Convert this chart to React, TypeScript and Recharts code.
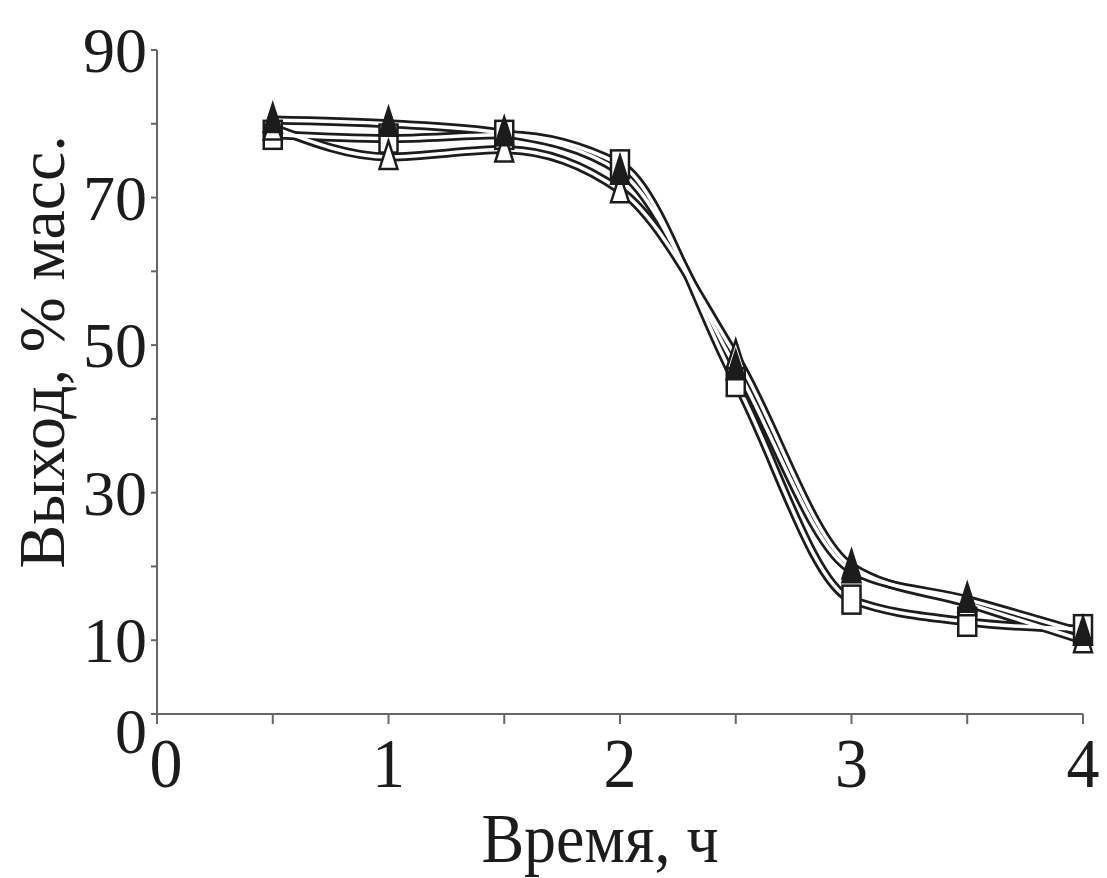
import { Line, LineChart, XAxis, YAxis } from "recharts";

const hours = [0.5, 1, 1.5, 2, 2.5, 3, 3.5, 4];
const seriesFilled = [80.5, 80, 78.7, 73.5, 47, 19.5, 15.5, 11];
const seriesSquare = [78.5, 78, 78.5, 74.5, 45, 15.5, 12.5, 11.5];
const seriesOpen = [79.5, 75.5, 76.5, 71, 48.5, 20, 15, 10];

const xTicks = [0, 0.5, 1, 1.5, 2, 2.5, 3, 3.5, 4];
const yTicks = [0, 10, 20, 30, 40, 50, 60, 70, 80, 90];
const yLabelled = [0, 10, 30, 50, 70, 90];

const rows = hours.map((t, i) => ({
  t,
  filled: seriesFilled[i],
  square: seriesSquare[i],
  open: seriesOpen[i],
}));

const ink = "#1c1c1c";
const font = "'Liberation Serif', 'DejaVu Serif', serif";

function Triangle(props: any) {
  const { cx, cy, solid, index } = props;
  if (cx == null || cy == null) return null;
  return (
    <polygon
      key={index}
      points={`${cx},${cy - 16} ${cx - 9},${cy + 12} ${cx + 9},${cy + 12}`}
      fill={solid ? ink : "#fff"}
      stroke={ink}
      strokeWidth={2.5}
    />
  );
}

function Square(props: any) {
  const { cx, cy, index } = props;
  if (cx == null || cy == null) return null;
  return (
    <rect
      key={index}
      x={cx - 9}
      y={cy - 14}
      width={18}
      height={28}
      fill="#fff"
      stroke={ink}
      strokeWidth={2.5}
    />
  );
}

// x tick labels: integers only
function XTick(props: any) {
  const { x, payload } = props;
  const v = payload.value;
  if (!Number.isInteger(v)) return null;
  const px = v === 0 ? x + 9 : x;
  return (
    <text
      transform={`translate(${px},787) scale(1,1.05)`}
      textAnchor="middle"
      fontFamily={font}
      fontSize={66}
      fill={ink}
    >
      {v}
    </text>
  );
}

function YTick(props: any) {
  const { x, y, payload } = props;
  const v = payload.value;
  if (!yLabelled.includes(v)) return null;
  const py = v === 0 ? y + 17 : y;
  return (
    <text
      transform={`translate(${x - 2},${py + 22})`}
      textAnchor="end"
      fontFamily={font}
      fontSize={64}
      fill={ink}
    >
      {v}
    </text>
  );
}

function YTitle() {
  return (
    <text
      transform="translate(64,352) rotate(-90)"
      textAnchor="middle"
      fontFamily={font}
      fontSize={66}
      fill={ink}
    >
      Выход, % масс.
    </text>
  );
}

function XTitle() {
  return (
    <text
      transform="translate(600,862) scale(1,1.1)"
      textAnchor="middle"
      fontFamily={font}
      fontSize={64}
      fill={ink}
    >
      Время, ч
    </text>
  );
}

const keys = ["filled", "square", "open"];

export default function App() {
  return (
    <div style={{ position: "absolute", left: 0, top: 0, background: "#fff" }}>
      <LineChart
        width={1107}
        height={878}
        data={rows}
        margin={{ top: 50, right: 24, bottom: 0, left: 0 }}
      >
        <XAxis
          dataKey="t"
          type="number"
          domain={[0, 4]}
          ticks={xTicks}
          tick={<XTick />}
          tickSize={10}
          height={164}
          stroke="#666"
          strokeWidth={2}
          label={<XTitle />}
        />
        <YAxis
          type="number"
          domain={[0, 90]}
          ticks={yTicks}
          tick={<YTick />}
          tickSize={6}
          width={157}
          stroke="#666"
          strokeWidth={2}
          label={<YTitle />}
        />
        {keys.map((k) => (
          <Line
            key={`o-${k}`}
            dataKey={k}
            type="monotone"
            stroke={ink}
            strokeWidth={9}
            dot={false}
            activeDot={false}
            isAnimationActive={false}
          />
        ))}
        {keys.map((k) => (
          <Line
            key={`i-${k}`}
            dataKey={k}
            type="monotone"
            stroke="#fff"
            strokeWidth={3.5}
            dot={false}
            activeDot={false}
            isAnimationActive={false}
          />
        ))}
        <Line
          dataKey="square"
          stroke="none"
          dot={<Square />}
          activeDot={false}
          isAnimationActive={false}
        />
        <Line
          dataKey="open"
          stroke="none"
          dot={<Triangle />}
          activeDot={false}
          isAnimationActive={false}
        />
        <Line
          dataKey="filled"
          stroke="none"
          dot={<Triangle solid />}
          activeDot={false}
          isAnimationActive={false}
        />
      </LineChart>
    </div>
  );
}
